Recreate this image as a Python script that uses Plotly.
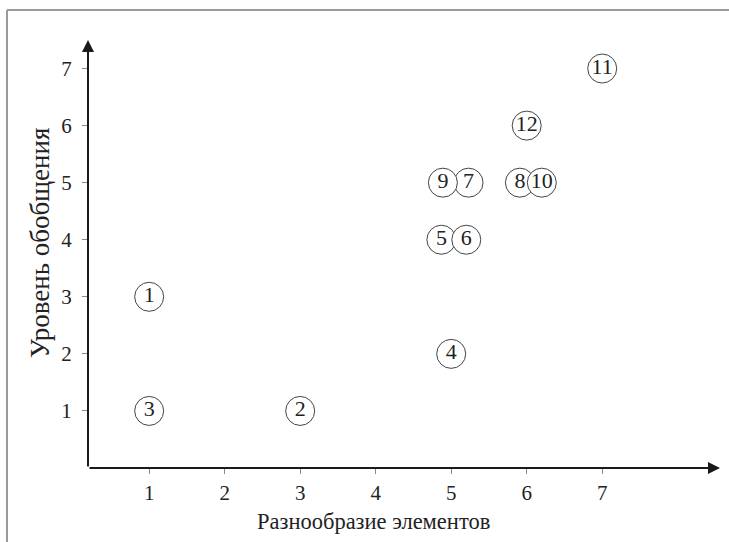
import plotly.graph_objects as go

# номера элементов и их координаты (разнообразие, уровень обобщения)
labels = ["1", "3", "2", "4", "7", "9", "5", "6", "8", "10", "12", "11"]
x_vals = [1, 1, 3, 5, 5.23, 4.89, 4.87, 5.2, 5.91, 6.2, 6.0, 7.0]
y_vals = [3, 1, 1, 2, 5, 5, 4, 4, 5, 5, 6, 7]

tick_vals = [1, 2, 3, 4, 5, 6, 7]
x_title = "Разнообразие элементов"
y_title = "Уровень обобщения"

FONT = "Liberation Serif, Times New Roman, serif"
TXT = "#222222"
X0, X1 = 0.19, 8.56

fig = go.Figure()
fig.add_trace(go.Scatter(
    x=x_vals, y=y_vals, mode="markers+text", text=labels,
    textposition="middle center",
    textfont=dict(family=FONT, size=22, color=TXT),
    marker=dict(size=29, color="white", line=dict(color="#444444", width=1)),
    cliponaxis=False, showlegend=False, hoverinfo="skip",
))

axis_common = dict(
    showgrid=False, zeroline=False, showline=False,
    ticks="outside", ticklen=5, tickwidth=1, tickcolor="#888888",
    tickvals=tick_vals, tickfont=dict(family=FONT, size=21, color=TXT),
)
fig.update_xaxes(range=[X0, X1], ticklabelstandoff=1, **axis_common)
fig.update_yaxes(range=[0, 7.5], ticklabelstandoff=6, **axis_common)

# оси со стрелками
fig.add_annotation(x=X1, y=0, ax=X0, ay=0, xref="x", yref="y", axref="x", ayref="y",
                   showarrow=True, arrowhead=2, arrowsize=1.2, arrowwidth=2, arrowcolor="#1a1a1a", text="")
fig.add_annotation(x=X0, y=7.5, ax=X0, ay=0, xref="x", yref="y", axref="x", ayref="y",
                   showarrow=True, arrowhead=2, arrowsize=1.2, arrowwidth=2, arrowcolor="#1a1a1a", text="")

# подписи осей
fig.add_annotation(text=x_title, x=(373 - 88) / 632, y=-(521 - 468) / 428, xref="paper", yref="paper",
                   xanchor="center", yanchor="middle",
                   showarrow=False, font=dict(family=FONT, size=22.5, color=TXT))
fig.add_annotation(text=y_title, x=(40 - 88) / 632, y=(468 - 243) / 428, xref="paper", yref="paper",
                   xanchor="center", yanchor="middle",
                   showarrow=False, textangle=-90, font=dict(family=FONT, size=27, color=TXT))

# рамка скана
fig.add_shape(type="line", xref="paper", yref="paper", x0=(7 - 88) / 632, x1=1.02,
              y0=(468 - 10) / 428, y1=(468 - 10) / 428, line=dict(color="#9a9a9a", width=2))
fig.add_shape(type="line", xref="paper", yref="paper", x0=(7 - 88) / 632, x1=(7 - 88) / 632,
              y0=(468 - 10) / 428, y1=-0.18, line=dict(color="#9a9a9a", width=2))

fig.update_layout(
    width=729, height=542,
    margin=dict(l=88, r=9, t=40, b=74),
    plot_bgcolor="white", paper_bgcolor="white",
)

fig.write_html("out.html", config={"displayModeBar": False},
               post_script="document.body.style.margin='0px';")
